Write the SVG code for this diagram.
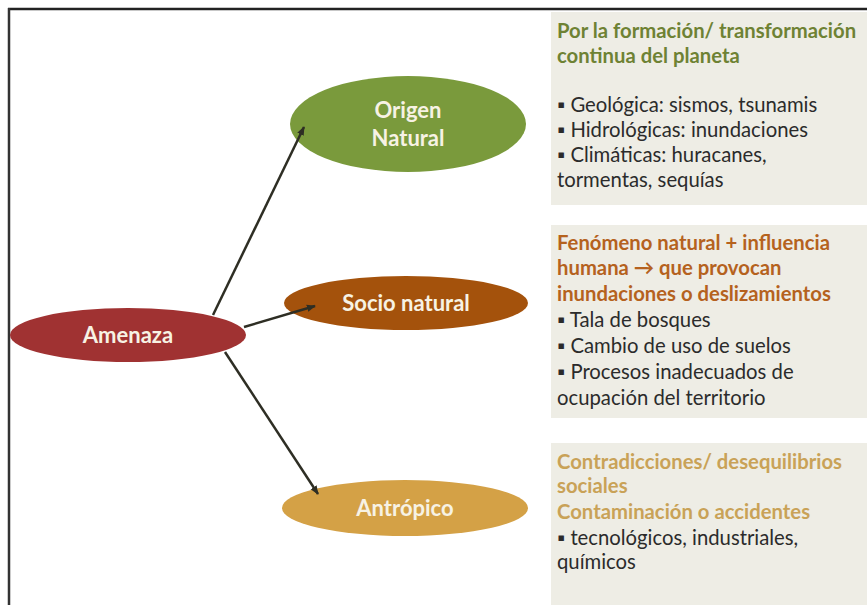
<svg xmlns="http://www.w3.org/2000/svg" width="867" height="605" viewBox="0 0 867 605">
<defs>
<marker id="ah" viewBox="0 0 10 10" refX="9" refY="5" markerWidth="9" markerHeight="9" markerUnits="userSpaceOnUse" orient="auto">
<path d="M0,1 L10,5 L0,9 z" fill="#2e2e24"/>
</marker>
</defs>
<style>
.lbl{font-family:Lato,"Liberation Sans",sans-serif;font-weight:bold;font-size:22px;fill:#f7f2e4;text-anchor:middle}
.box{fill:#eeede5}
.t{font-family:Lato,"Liberation Sans",sans-serif;font-size:20.3px;fill:#2b2b2b}
.h{font-weight:bold}
.hg{fill:#6e8234}
.ho{fill:#b5621e}
.hy{fill:#c9a257}
.conn{stroke:#2e2e24;stroke-width:2.5;fill:none}
</style>
<rect width="867" height="605" fill="#ffffff"/>
<g id="frame">
<line x1="8" y1="9" x2="867" y2="9" stroke="#222" stroke-width="2.5"/>
<line x1="9" y1="8" x2="9" y2="605" stroke="#333" stroke-width="2.5"/>
</g>
<g id="box-natural">
<rect class="box" x="551" y="12" width="316" height="193" fill="#eeeee4"/>
<text class="t h hg" x="557" y="38">Por la formación/ transformación</text>
<text class="t h hg" x="557" y="63">continua del planeta</text>
<text class="t" x="557" y="112">▪ Geológica: sismos, tsunamis</text>
<text class="t" x="557" y="137">▪ Hidrológicas: inundaciones</text>
<text class="t" x="557" y="162">▪ Climáticas: huracanes,</text>
<text class="t" x="557" y="187">tormentas, sequías</text>
</g>
<g id="box-socio">
<rect class="box" x="551" y="225" width="316" height="193"/>
<text class="t h ho" x="557" y="250">Fenómeno natural + influencia</text>
<text class="t h ho" x="557" y="275">humana → que provocan</text>
<text class="t h ho" x="557" y="301">inundaciones o deslizamientos</text>
<text class="t" x="557" y="327">▪ Tala de bosques</text>
<text class="t" x="557" y="353">▪ Cambio de uso de suelos</text>
<text class="t" x="557" y="379">▪ Procesos inadecuados de</text>
<text class="t" x="557" y="405">ocupación del territorio</text>
</g>
<g id="box-antropico">
<rect class="box" x="551" y="443" width="316" height="162"/>
<text class="t h hy" x="557" y="469">Contradicciones/ desequilibrios</text>
<text class="t h hy" x="557" y="493">sociales</text>
<text class="t h hy" x="557" y="519">Contaminación o accidentes</text>
<text class="t" x="557" y="545">▪ tecnológicos, industriales,</text>
<text class="t" x="557" y="569">químicos</text>
</g>
<g id="node-amenaza">
<ellipse cx="128" cy="335" rx="118" ry="27" fill="#a03232"/>
<text class="lbl" x="128" y="343">Amenaza</text>
</g>
<g id="node-origen">
<ellipse cx="408" cy="124" rx="118" ry="48" fill="#7a9a3c"/>
<text class="lbl" x="408" y="118">Origen</text>
<text class="lbl" x="408" y="146">Natural</text>
</g>
<g id="node-socio">
<ellipse cx="406" cy="303" rx="122" ry="27" fill="#a4520c"/>
<text class="lbl" x="406" y="311">Socio natural</text>
</g>
<g id="node-antropico">
<ellipse cx="405" cy="508" rx="123" ry="28" fill="#d4a146"/>
<text class="lbl" x="405" y="516">Antrópico</text>
</g>
<g id="connectors">
<line class="conn" x1="213" y1="315" x2="304" y2="127" marker-end="url(#ah)"/>
<line class="conn" x1="244" y1="327" x2="315" y2="306" marker-end="url(#ah)"/>
<line class="conn" x1="225" y1="352" x2="318" y2="494" marker-end="url(#ah)"/>
</g>
</svg>
